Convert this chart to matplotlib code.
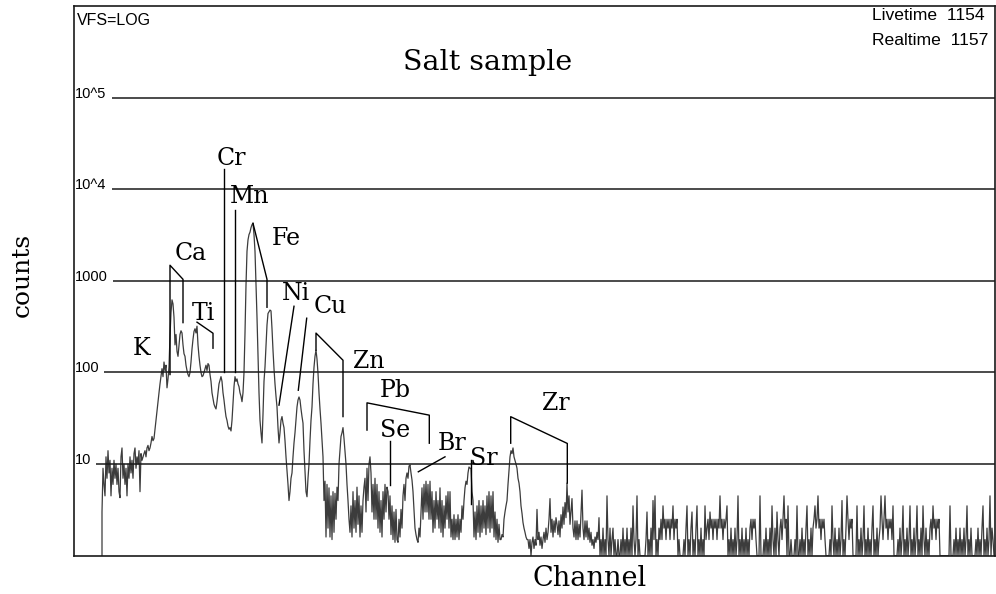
import numpy as np
import matplotlib
matplotlib.use('Agg')
import matplotlib.pyplot as plt

# spectrum, one value per channel starting at channel 27
start_ch = 27
low_counts = [
    0, 3, 9, 6, 4.5, 12, 7, 14, 8, 11,
    4.5, 9, 6, 11, 7, 10, 6, 9, 5, 4.3,
    12, 15, 7, 10, 6, 9, 4.5, 10, 7, 12,
    8, 11, 7, 13, 15, 9, 12, 10, 14, 5,
    13, 11, 12, 13, 14, 12, 15, 16, 14, 15,
    17, 20, 18, 19, 24, 30, 38, 48, 60, 75,
    90, 110, 90, 130, 105, 120, 68, 85, 115, 250,
    450, 620, 560, 400, 200, 260, 170, 150, 200, 260,
    285, 270, 200, 160, 150, 120, 105, 95, 90, 100,
    130, 180, 230, 280, 300, 270, 320, 200, 150, 120,
    100, 90, 92, 100, 110, 120, 105, 125, 120, 95,
    80, 60, 52, 45, 42, 40, 48, 60, 75, 82,
    90, 80, 60, 50, 40, 33, 30, 26, 24, 25,
    23, 30, 45, 70, 90, 80, 85, 75, 70, 60,
    55, 48, 60, 100, 270, 900, 2100, 2800, 3200, 3400,
    3800, 4100, 4250, 3200, 2100, 900, 400, 150, 60, 30,
    22, 17, 35, 80, 115, 200, 330, 440, 460, 480,
    470, 300, 175, 110, 75, 55, 42, 25, 17, 22,
    30, 33, 28, 25, 18, 12, 8.5, 6, 4, 5,
    7, 8, 12, 17, 22, 30, 42, 50, 54, 50,
    40, 33, 28, 14, 8.5, 5, 4.4, 7, 10, 18,
    30, 42, 75, 114, 150, 175, 140, 98, 60, 40,
    28, 18, 12, 4, 6.5, 1.6, 6, 2, 5.5, 1.6,
    4.5, 1.5, 5, 1.8, 4.8, 2.5, 5.6, 4, 10, 14,
    20, 22, 25, 19, 14, 10, 6, 4, 2.5, 1.8,
    3.5, 1.6, 5, 2, 4, 1.8, 5.6, 2.2, 4.5, 1.6,
    3.5, 1.8, 4, 5.6, 7, 3, 9, 4, 10, 12,
    8, 3, 6, 2.5, 7, 2.5, 6, 2, 5, 1.8,
    4, 1.6, 5, 2.5, 6, 3, 5.6, 5, 2.5, 4.5,
    1.7, 3.5, 1.5, 3, 1.4, 3.2, 1.5, 1.4, 2.5, 1.6,
    3.2, 2, 4.5, 6, 4, 7, 8, 7, 9.5, 9.8,
    8, 6.7, 5, 3.2, 2, 1.7, 1.5, 1.4, 2, 1.6,
    3, 5.5, 2.5, 6, 3, 6.5, 3, 6, 2.5, 6.5,
    2.5, 5, 1.8, 4, 2, 5, 2.5, 4, 2, 5.5,
    1.8, 4, 1.6, 3.5, 2, 4.5, 2.5, 5, 2, 5,
    1.6, 2.5, 1.5, 2.8, 1.5, 2.5, 1.6, 2.8, 1.5, 2.5,
    1.8, 3.5, 2.5, 4, 5.5, 6.5, 6, 8, 9.3, 9,
    9, 5, 4, 1.6, 3, 1.5, 3.5, 1.8, 4, 1.6,
    3.5, 1.8, 4, 2, 3.5, 1.7, 4.5, 2, 5, 1.8,
    4.5, 2, 5, 1.6, 3, 1.5, 2.5, 1.4, 2.2, 1.5,
    1.5, 1.7, 1.6, 2.5, 3, 3.5, 4, 6, 8.6, 12,
    14, 13, 15, 12, 11, 10, 9, 7, 6.2, 5,
    3.5, 2.9, 2.3, 2, 1.8, 1.6, 1.5,
    1.5, 1.2, 1.5, 1, 1.4, 1.6, 1.2, 1.5, 1.3, 3.2,
    1.5, 1.8, 1.3, 1.6, 1.2, 1.5, 1.8, 1.4, 2, 1.5,
    1.8, 2.5, 4.2, 1.8, 2.5, 1.6, 2.4, 1.8, 2.6, 2.2,
    1.7, 2.4, 1.6, 2.8, 2, 3.4, 2.2, 3.8, 2.6, 6.2,
    3, 4.5, 2.2, 3, 4.2, 2, 1.6, 2.4, 1.5, 2.4,
    1.5, 2.2, 1.6, 2.8, 5.2, 2, 1.5, 2.4, 1.6, 2.4,
    1.5, 2, 1.4, 1.8, 1.3, 1.5, 1.2, 1.6, 1.4, 1.8,
    1.5, 2.6,
]
# high channels: one digit per channel, counts in half units
tail_half_counts = (
    "2324232932" "4234232232" "2324232423" "2427323923" "2222223623"
    "2428392324" "3537453545" "3547354523" "2222324723" "2462324723"
    "2423273453" "6453545354" "9453545723" "2423242392" "3242324232"
    "4535453222" "9222324232" "4273242632" "4535945272" "2322232722"
    "3242324723" "2424574594" "5354532222" "3273242324" "2382324953"
    "5452222723" "2423723242" "3247232423" "4953594535" "4537222232"
    "4237232423" "7232423723" "2427324232" "4537453545" "2222222222"
    "7222324232" "4232423723" "2422223242" "3247232423" "92432"
)

elements = ['K', 'Ca', 'Ti', 'Cr', 'Mn', 'Fe', 'Ni', 'Cu', 'Zn', 'Pb', 'Se', 'Br', 'Sr', 'Zr']
label_ch = [68, 117, 129, 157, 176, 212, 222, 256, 295, 321.5, 321, 378, 410, 482]
label_counts = [154.5, 1677, 372, 18230, 7020, 2445, 614, 443, 111, 54.2, 19.9, 14.2, 9.75, 38.8]

# peak marker lines (channel, counts)
marker_lines = [
    [(96, 95), (96, 1480), (109, 1040), (109, 350)],      # Ca
    [(123, 354), (139, 268), (139, 184)],                 # Ti
    [(150, 100), (150, 16500)],                           # Cr
    [(161, 100), (161, 5890)],                            # Mn
    [(179, 4250), (193, 1040), (193, 515)],               # Fe
    [(220, 528), (205, 44)],                              # Ni
    [(232.7, 391), (224.3, 64)],                          # Cu
    [(242, 175), (242, 269), (269, 136), (269, 33)],      # Zn
    [(293, 23.5), (293, 46.6), (355.3, 34.2), (355.3, 16.9)],  # Pb
    [(316, 18), (316, 5.9)],                              # Se
    [(344.3, 8.24), (371, 12.0)],                         # Br
    [(396.7, 11.1), (396.7, 3.7)],                        # Sr
    [(436.7, 16.9), (436.7, 32.9), (493.3, 16.8), (493.3, 6.2)],  # Zr
]

grid_values = [10, 100, 1000, 1e4, 1e5]
grid_labels = ['10', '100', '1000', '10^4', '10^5']
grid_start = [22, 30, 39, 38, 38]

n_channels = 921

counts = np.array(low_counts + [int(d) / 2 for d in tail_half_counts], dtype=float)
ch = np.arange(start_ch, start_ch + len(counts))

fig = plt.figure(figsize=(9.96, 5.94), dpi=100)
fig.patch.set_facecolor('white')
ax = fig.add_axes([74/996, 1 - 555.7/594, 921/996, 549.7/594])

ax.plot(ch, counts, color='#3c3c3c', lw=0.9)
ax.set_yscale('log', nonpositive='clip')
ax.set_ylim(1, 1e6)
ax.set_xlim(0, n_channels)
ax.tick_params(which='both', left=False, bottom=False, labelleft=False, labelbottom=False)
for s in ax.spines.values():
    s.set_linewidth(1.2)
    s.set_color('#1a1a1a')

# decade lines with their labels
for v, lab, x0 in zip(grid_values, grid_labels, grid_start):
    ax.hlines(v, x0, n_channels, color='#1a1a1a', lw=1.1)
    ax.text(1, v, lab, fontsize=10.5, family='Liberation Sans', ha='left', va='baseline')

for line in marker_lines:
    xs, ys = zip(*line)
    ax.plot(xs, ys, color='black', lw=1.0)

for name, x, y in zip(elements, label_ch, label_counts):
    ax.text(x, y, name, fontsize=17, family='DejaVu Serif', ha='center', va='baseline')

ax.text(488 - 74, 10**((555.7 - 70)/91.7), 'Salt sample', fontsize=20.5,
        family='DejaVu Serif', ha='center', va='baseline')
ax.text(3/921, (555.7 - 25)/549.7, 'VFS=LOG', transform=ax.transAxes,
        fontsize=11.5, family='Liberation Sans', ha='left', va='baseline')
ax.text(798/921, (555.7 - 20)/549.7, 'Livetime  1154', transform=ax.transAxes,
        fontsize=12.6, family='Liberation Sans', ha='left', va='baseline')
ax.text(798/921, (555.7 - 45)/549.7, 'Realtime  1157', transform=ax.transAxes,
        fontsize=12.6, family='Liberation Sans', ha='left', va='baseline')

fig.text(22/996, 1 - 275/594, 'counts', rotation=90, fontsize=18,
         family='DejaVu Serif', ha='center', va='center')
fig.text(590/996, 1 - 578/594, 'Channel', fontsize=19.5,
         family='DejaVu Serif', ha='center', va='center')

fig.savefig('out.png', dpi=100)
